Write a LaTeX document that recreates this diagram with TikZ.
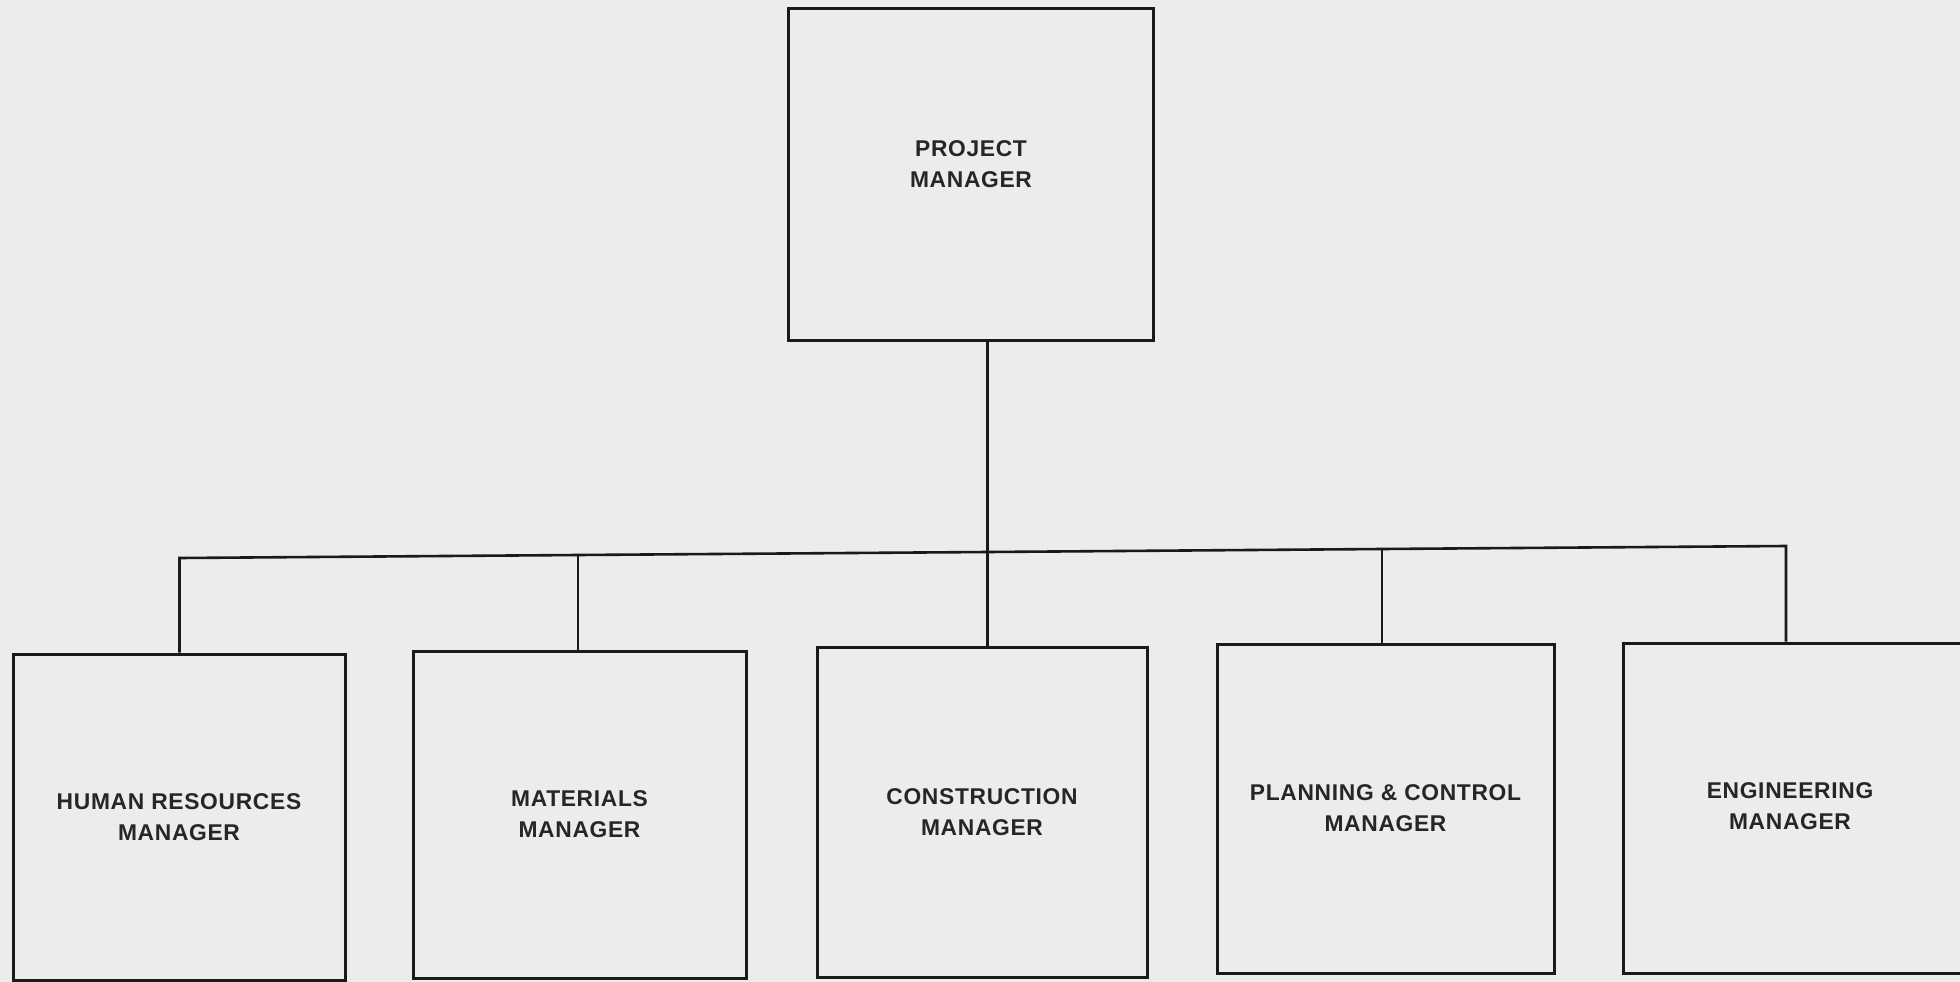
\documentclass[tikz,border=0pt]{standalone}
\usepackage{fontspec}
\setmainfont{Liberation Sans}[LetterSpace=3]
\definecolor{paper}{HTML}{ECECEA}
\definecolor{ink}{HTML}{1A1A1A}
\definecolor{print}{HTML}{262626}
\begin{document}
\begin{tikzpicture}[x=1pt,y=-1pt,
  label font/.style={text=print,font=\fontsize{22.8}{31}\selectfont\bfseries,align=center},
  orgbox/.style={draw=ink,line width=3pt,rectangle,inner sep=0pt,label font},
  link/.style={draw=ink,line width=2.6pt,line join=miter}]
  % page
  \useasboundingbox (0,0) rectangle (1960,982);
  \clip (0,0) rectangle (1960,982);
  \fill[paper] (0,0) rectangle (1960,982);

  % top box
  \node[orgbox,minimum width=365pt,minimum height=331pt] (pm) at (970.5,174.5) {};
  \node[label font,inner sep=0pt] (pmtext) at (971,164) {PROJECT\\MANAGER};

  % department boxes
  \node[orgbox,minimum width=332pt,minimum height=326pt] (hr)  at (179,817)    {HUMAN RESOURCES\\MANAGER};
  \node[orgbox,minimum width=333pt,minimum height=327pt] (mat) at (579.5,814.5) {MATERIALS\\MANAGER};
  \node[orgbox,minimum width=330pt,minimum height=330pt] (con) at (982,812)    {CONSTRUCTION\\MANAGER};
  \node[orgbox,minimum width=337pt,minimum height=329pt] (pln) at (1385.5,808.5) {PLANNING \& CONTROL\\MANAGER};
  \node[orgbox,minimum width=345pt,minimum height=330pt] (eng) at (1795.5,808) {};
  \node[label font,inner sep=0pt] (engtext) at (1790,806) {ENGINEERING\\MANAGER};

  % junctions on the horizontal bus
  \coordinate (jhr)  at (179.5,558);
  \coordinate (jmat) at (578,555);
  \coordinate (jpm)  at (987.5,552);
  \coordinate (jpln) at (1382,549);
  \coordinate (jeng) at (1786,546);

  % connectors
  \draw[link] (jpm |- pm.south) -- (jpm) -- (jpm |- con.north);
  \draw[link] (jhr |- hr.north) -- (jhr) -- (jmat) -- (jpm) -- (jpln) -- (jeng) -- (jeng |- eng.north);
  \draw[link] (jmat) -- (jmat |- mat.north);
  \draw[link] (jpln) -- (jpln |- pln.north);
\end{tikzpicture}
\end{document}
